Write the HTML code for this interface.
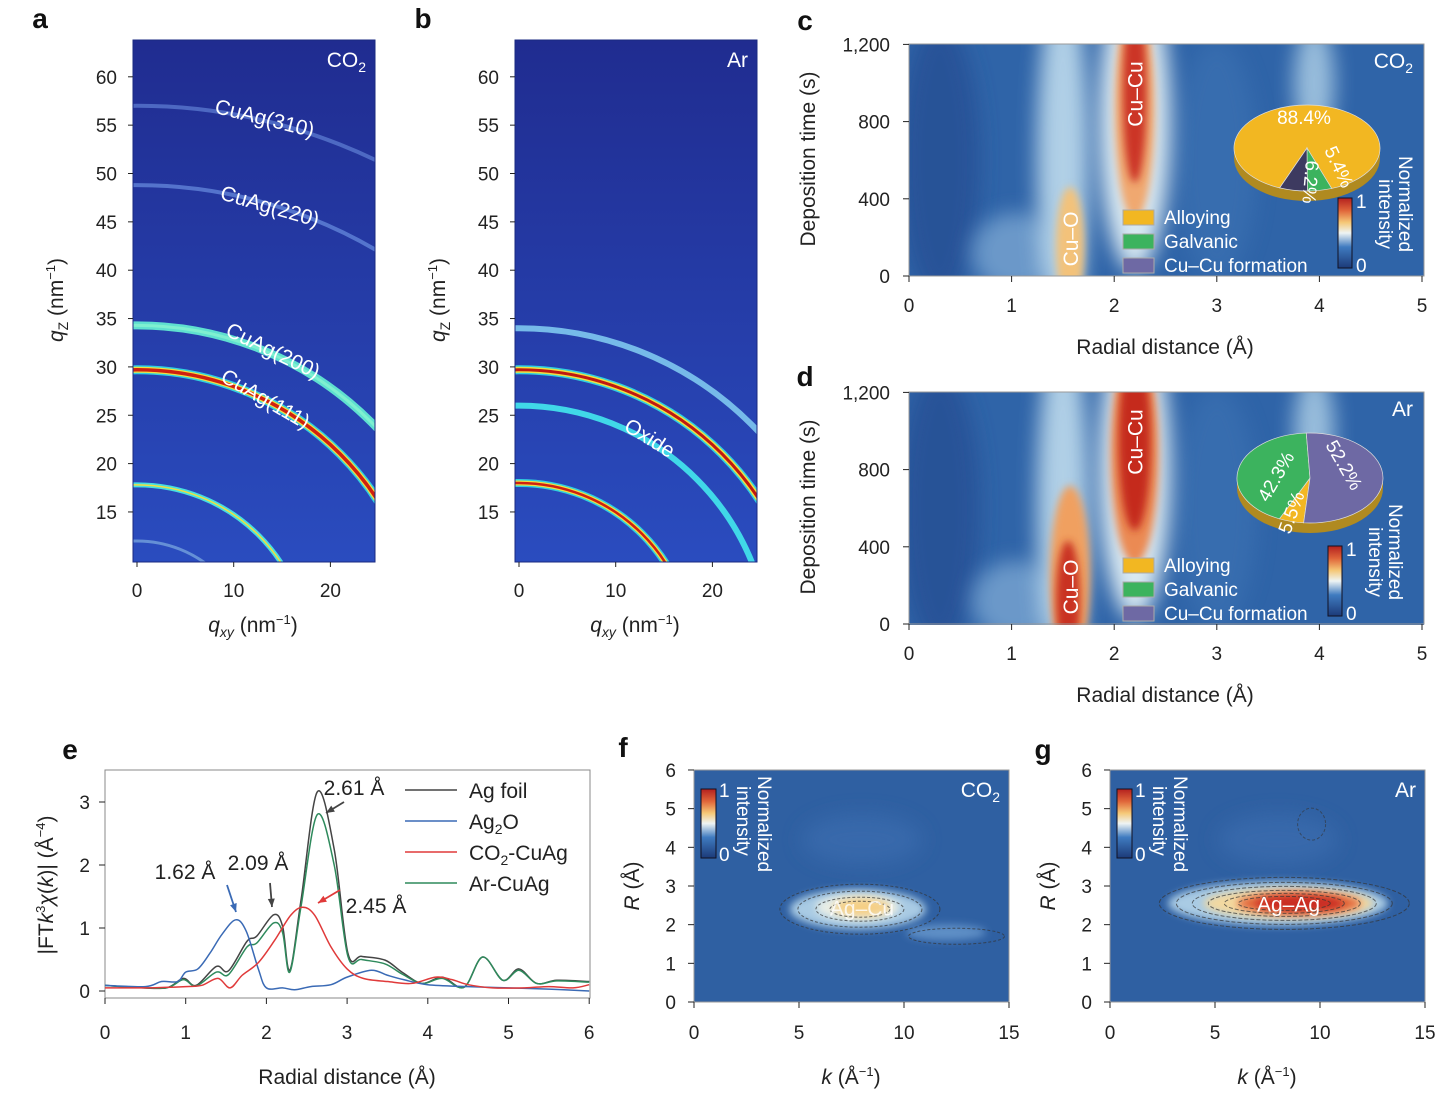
<!DOCTYPE html>
<html><head><meta charset="utf-8"><style>
html,body{margin:0;background:#fff;width:1454px;height:1101px;overflow:hidden;}
svg{display:block;font-family:"Liberation Sans",sans-serif;}
.t{font-size:19px;fill:#222;}
.lab{font-size:21px;fill:#222;}
.pl{font-size:28px;font-weight:bold;fill:#111;}
.w{fill:#fff;}
</style></head><body>
<svg id="fig" width="1454" height="1101" viewBox="0 0 1454 1101">
<defs>
<filter id="b4" x="-50%" y="-50%" width="200%" height="200%"><feGaussianBlur stdDeviation="4"/></filter>
<filter id="b10" x="-50%" y="-50%" width="200%" height="200%"><feGaussianBlur stdDeviation="10"/></filter>
<filter id="b1"><feGaussianBlur stdDeviation="1.2"/></filter>
<linearGradient id="cbar" x1="0" y1="1" x2="0" y2="0">
<stop offset="0" stop-color="#1c3a78"/><stop offset="0.3" stop-color="#3f7bc0"/><stop offset="0.5" stop-color="#eef4f4"/><stop offset="0.65" stop-color="#f5c877"/><stop offset="0.82" stop-color="#e0663a"/><stop offset="1" stop-color="#b4201f"/></linearGradient>
<linearGradient id="giwaxs" x1="0" y1="0" x2="0" y2="1"><stop offset="0" stop-color="#202c90"/><stop offset="1" stop-color="#2a4cbf"/></linearGradient>
<clipPath id="ca"><rect x="133" y="40" width="242" height="522"/></clipPath>
<clipPath id="cb"><rect x="515" y="40" width="242" height="522"/></clipPath>
<clipPath id="cc"><rect x="909" y="44" width="515" height="232"/></clipPath>
<clipPath id="cd"><rect x="909" y="392" width="515" height="233"/></clipPath>
<clipPath id="cf"><rect x="694" y="770" width="315" height="232"/></clipPath>
<clipPath id="cg"><rect x="1110" y="770" width="315" height="232"/></clipPath>
</defs>
<g id="root"></g>
</svg>
<script>
// ---------- panel e data ----------
const eX=[0,0.34,0.76,0.97,1.13,1.38,1.53,1.76,1.88,2.09,2.2,2.29,2.43,2.63,2.84,3.01,3.18,3.47,3.68,3.93,4.18,4.45,4.68,4.93,5.13,5.35,5.6,6.0];
const agFoil=[0.09,0.06,0.05,0.2,0.09,0.39,0.32,0.79,0.87,1.21,1.03,0.33,1.45,3.16,2.25,0.6,0.55,0.49,0.3,0.12,0.22,0.06,0.54,0.17,0.35,0.12,0.17,0.15];
const arCuAg=[0.09,0.06,0.05,0.18,0.08,0.3,0.26,0.7,0.76,1.08,0.93,0.3,1.35,2.8,2.0,0.55,0.5,0.43,0.27,0.12,0.2,0.06,0.54,0.17,0.33,0.12,0.16,0.14];
const blueX=[0,0.5,0.7,0.9,1.0,1.15,1.3,1.45,1.62,1.75,1.9,2.0,2.2,2.35,2.55,2.8,3.0,3.3,3.5,3.7,4.0,4.5,5.0,5.5,6.0];
const ag2O=[0.09,0.07,0.15,0.15,0.3,0.35,0.6,0.9,1.13,0.95,0.35,0.05,0.05,0.02,0.07,0.1,0.22,0.33,0.25,0.18,0.1,0.07,0.05,0.03,0.0];
const redX=[0,0.5,1.0,1.2,1.4,1.55,1.7,1.9,2.1,2.3,2.45,2.6,2.8,3.0,3.2,3.5,3.8,4.1,4.3,4.5,4.8,5.2,5.5,5.8,6.0];
const co2CuAg=[0.05,0.05,0.07,0.09,0.2,0.05,0.25,0.45,0.8,1.2,1.33,1.2,0.7,0.35,0.2,0.15,0.12,0.22,0.18,0.1,0.05,0.05,0.07,0.05,0.1];
const eXTicks=[0,1,2,3,4,5,6];
const eYTicks=[0,1,2,3];
// pies
const pieC=[88.4,5.4,6.2];
const pieD=[5.5,42.3,52.2];
// GIWAXS ring q values
const ringsA=[12,17.8,29.7,34.3,48.8,57];
const ringsB=[18,26,29.7,34];
const qzTicks=[15,20,25,30,35,40,45,50,55,60];
const qxyTicks=[0,10,20];
const rTicks=[0,1,2,3,4,5];
const tTicks=[0,400,800,1200];
const kTicks=[0,5,10,15];
const RTicks=[0,1,2,3,4,5,6];

const NS="http://www.w3.org/2000/svg";
const root=document.getElementById('root');
function mk(tag,attrs,parent){const e=document.createElementNS(NS,tag);for(const k in attrs)e.setAttribute(k,attrs[k]);(parent||root).appendChild(e);return e;}
function txt(x,y,s,cls,extra,parent){const e=mk('text',Object.assign({x:x,y:y,class:cls},extra||{}),parent);e.innerHTML=s;return e;}

// ---------- panels a & b ----------
function giwaxs(px,clip,rings,kind,title){
  const x0=px+4,y0=657,s=9.67;
  const g=mk('g',{'clip-path':'url(#'+clip+')'});
  
  
  mk('rect',{x:px,y:40,width:242,height:522,fill:'url(#giwaxs)'},g);
  rings.forEach((q,i)=>{
    const r=q*s;
    let specs;
    if(kind==='a'){
      specs=[[['#9fd4f0',3,0.5]],[['#48e0e0',5,1],['#f0e040',1.5,1]],[['#30d0e0',9,1],['#f0e040',6,1],['#d02010',3.5,1]],[['#5fe0d0',8,1],['#7ff0d0',3,1]],[['#6a8ee0',4,0.7]],[['#6a8ee0',4,0.6]]][i];
    } else {
      specs=[[['#30d0e0',8,1],['#f0e040',5,1],['#d02010',2.5,1]],[['#40d8e8',6,1]],[['#30d0e0',9,1],['#f0e040',6,1],['#c01810',3,1]],[['#80c8f0',6,0.9]]][i];
    }
    specs.forEach(sp=>{const c=mk('circle',{cx:x0,cy:y0,r:r,fill:'none',stroke:sp[0],'stroke-width':sp[1],opacity:sp[2]},g);
      
      });
  });
  mk('rect',{x:px,y:40,width:242,height:522,fill:'none',stroke:'#1a2a80','stroke-width':1});
  txt(px+233,67,title,'lab w',{'text-anchor':'end','font-size':20});
  qzTicks.forEach(v=>{const y=y0-v*s;mk('line',{x1:px-5,x2:px,y1:y,y2:y,stroke:'#222'});
    const t=txt(px-16,y+7,v,'t',{'text-anchor':'end'});
    
    });
  qxyTicks.forEach(v=>{const x=x0+v*s;mk('line',{x1:x,x2:x,y1:562,y2:567,stroke:'#222'});
    const t=txt(x,597,v,'t',{'text-anchor':'middle'});
    
    });
  txt(px+120,632,'<tspan font-style="italic">q</tspan><tspan font-style="italic" font-size="14" dy="5">xy</tspan><tspan dy="-5"> (nm</tspan><tspan font-size="13" dy="-8">−1</tspan><tspan dy="8">)</tspan>','lab',{'text-anchor':'middle'});
  txt(0,0,'<tspan font-style="italic">q</tspan><tspan font-size="14" dy="5">Z</tspan><tspan dy="-5"> (nm</tspan><tspan font-size="13" dy="-8">−1</tspan><tspan dy="8">)</tspan>','lab',{'text-anchor':'middle',transform:'translate('+(px-70)+',300) rotate(-90)'});
}
giwaxs(133,'ca',ringsA,'a','CO<tspan font-size="14" dy="5">2</tspan>');
giwaxs(515,'cb',ringsB,'b','Ar');
txt(263,125,'CuAg(310)','lab w',{transform:'rotate(14 263 125)','text-anchor':'middle'});
txt(268,213,'CuAg(220)','lab w',{transform:'rotate(16 268 213)','text-anchor':'middle'});
txt(270,357,'CuAg(200)','lab w',{transform:'rotate(26 270 357)','text-anchor':'middle'});
txt(262,405,'CuAg(111)','lab w',{transform:'rotate(30 262 405)','text-anchor':'middle'});
txt(646,444,'Oxide','lab w',{transform:'rotate(32 646 444)','text-anchor':'middle'});
txt(40,28,'a','pl',{'text-anchor':'middle'});
txt(423,28,'b','pl',{'text-anchor':'middle'});

// ---------- panels c & d ----------
function blob(g,cx,cy,rx,ry,color,op,f){const e=mk('ellipse',{cx:cx,cy:cy,rx:rx,ry:ry,fill:color,opacity:op,filter:'url(#'+(f||'b10')+')'},g);
  
  return e;}
function pieSlice(g,cx,cy,rx,ry,a0,a1,color){
  const r=Math.PI/180;
  const p='M'+cx+','+cy+' L'+(cx+rx*Math.cos(a0*r))+','+(cy+ry*Math.sin(a0*r))+' A'+rx+','+ry+' 0 '+((a1-a0)>180?1:0)+' 1 '+(cx+rx*Math.cos(a1*r))+','+(cy+ry*Math.sin(a1*r))+' Z';
  const e=mk('path',{d:p,fill:color,stroke:'#ddd','stroke-width':0.7},g);
  
  }
function heat(top,clip,kind){
  const X=r=>909+r*102.6, Y=t=>top+232-t*0.193;
  const g=mk('g',{'clip-path':'url(#'+clip+')'});
  
  
  mk('rect',{x:909,y:top,width:515,height:233,fill:'#2f64a8'},g);
  blob(g,X(0.3),Y(600),40,140,'#284f94',0.8);
  blob(g,X(1.05),Y(120),45,40,'#7aa6d2',0.8);
  blob(g,X(1.5),Y(600),26,180,'#b8d6ea',0.95);
  blob(g,X(3.95),Y(1000),20,60,'#a5c8e2',0.9);
  blob(g,X(3.0),Y(600),40,120,'#3d73b4',0.6);
  blob(g,X(2.2),Y(800),36,150,'#d9e9f2',1);
  if(kind==='c'){
    blob(g,X(2.2),Y(860),20,110,'#f0a870',1,'b4');
    blob(g,X(2.2),Y(950),12,90,'#cc3626',1,'b4');
    blob(g,X(1.57),Y(150),14,60,'#f3c27a',1,'b4');
  } else {
    blob(g,X(2.2),Y(880),24,110,'#eb8a52',1,'b4');
    blob(g,X(2.2),Y(950),16,90,'#c52a1e',1,'b4');
    blob(g,X(1.57),Y(250),20,90,'#f0a060',1,'b4');
    blob(g,X(1.55),Y(120),12,60,'#c93222',1,'b4');
  }
  mk('rect',{x:909,y:top,width:515,height:232,fill:'none',stroke:'#999'});
  txt(0,0,'Cu–Cu','lab w',{'text-anchor':'middle',transform:'translate('+(X(2.2)+8)+','+(top+50)+') rotate(-90)'});
  txt(0,0,'Cu–O','lab w',{'text-anchor':'middle',transform:'translate('+(X(1.57)+8)+','+(top+195)+') rotate(-90)'});
  txt(1413,top+24,kind==='c'?'CO<tspan font-size="14" dy="5">2</tspan>':'Ar','lab w',{'text-anchor':'end'});
  const leg=[['#f2b722','Alloying'],['#3cb35e','Galvanic'],['#6e69a4','Cu–Cu formation']];
  leg.forEach((l,i)=>{const y=top+166+i*24;
    const r=mk('rect',{x:1123,y:y,width:31,height:15,fill:l[0],stroke:'#aaa'});
    
    
    txt(1164,y+14,l[1],'t w',{'font-size':17});});
  const cbx=kind==='c'?1338:1328;
  mk('rect',{x:cbx,y:top+154,width:14,height:70,fill:'url(#cbar)',stroke:'#112'});
  txt(cbx+18,top+164,'1','t w',{'font-size':12});
  txt(cbx+18,top+228,'0','t w',{'font-size':12});
  txt(0,0,'Normalized','t w',{'font-size':17,'text-anchor':'middle',transform:'translate('+(cbx+61)+','+(top+160)+') rotate(90)'});
  txt(0,0,'intensity','t w',{'font-size':17,'text-anchor':'middle',transform:'translate('+(cbx+41)+','+(top+170)+') rotate(90)'});
  rTicks.forEach(v=>{mk('line',{x1:X(v),x2:X(v),y1:top+232,y2:top+238,stroke:'#222'});
    const t=txt(X(v),top+268,v,'t',{'text-anchor':'middle'});
    
    });
  tTicks.forEach(v=>{mk('line',{x1:903,x2:909,y1:Y(v),y2:Y(v),stroke:'#222'});
    const t=txt(890,Y(v)+7,v===1200?'1,200':v,'t',{'text-anchor':'end'});
    
    });
  txt(1165,top+310,'Radial distance (Å)','lab',{'text-anchor':'middle'});
  txt(0,0,'Deposition time (s)','lab',{'text-anchor':'middle',transform:'translate(815,'+(top+115)+') rotate(-90)'});
}
heat(44,'cc','c');
heat(392,'cd','d');
txt(805,30,'c','pl',{'text-anchor':'middle'});
txt(805,386,'d','pl',{'text-anchor':'middle'});

function pie3d(cx,cy,rx,ry,vals,cols,start,name){
  const g=mk('g',{});
  
  
  mk('ellipse',{cx:cx,cy:cy+10,rx:rx,ry:ry,fill:'#b08a20'},g);
  mk('rect',{x:cx-rx,y:cy,width:2*rx,height:10,fill:'#b08a20'},g);
  let a=start;
  vals.forEach((v,i)=>{const a1=a+v*3.6;pieSlice(g,cx,cy,rx,ry,a,a1,cols[i]);a=a1;});
  return g;
}
pie3d(1307,148,73,43,pieC,['#f2b722','#3cb35e','#3d3a60'],112,'pie-chart-co2');
txt(1304,124,'88.4%','t w',{'text-anchor':'middle'});
txt(0,0,'6.2%','t w',{'font-size':14,transform:'translate(1306,160) rotate(95)'});
txt(0,0,'5.4%','t w',{'font-size':14,transform:'translate(1324,150) rotate(65)'});
pie3d(1310,478,73,45,pieD,['#f2b722','#3cb35e','#6e69a4'],95,'pie-chart-ar');
txt(0,0,'42.3%','t w',{'font-size':17,transform:'translate(1268,503) rotate(-60)'});
txt(0,0,'52.2%','t w',{'font-size':17,transform:'translate(1325,445) rotate(60)'});
txt(0,0,'5.5%','t w',{'font-size':15,transform:'translate(1290,535) rotate(-70)'});

// ---------- panel e ----------
const EX=v=>105+v*80.7, EY=v=>991-v*63;
function smooth(xs,ys){const p=xs.map((x,i)=>[EX(x),EY(ys[i])]);let d='M'+p[0][0]+','+p[0][1];
  for(let i=0;i<p.length-1;i++){const p0=p[i-1]||p[i],p1=p[i],p2=p[i+1],p3=p[i+2]||p2;
    d+=' C'+(p1[0]+(p2[0]-p0[0])/6)+','+(p1[1]+(p2[1]-p0[1])/6)+' '+(p2[0]-(p3[0]-p1[0])/6)+','+(p2[1]-(p3[1]-p1[1])/6)+' '+p2[0]+','+p2[1];}
  return d;}
mk('rect',{x:105,y:770,width:485,height:228,fill:'none',stroke:'#888'});
const l1=mk('path',{d:smooth(eX,agFoil),fill:'none',stroke:'#444','stroke-width':1.5});


const l4=mk('path',{d:smooth(eX,arCuAg),fill:'none',stroke:'#2e8a5c','stroke-width':1.5});


const l2=mk('path',{d:smooth(blueX,ag2O),fill:'none',stroke:'#3a6ab5','stroke-width':1.5});


const l3=mk('path',{d:smooth(redX,co2CuAg),fill:'none',stroke:'#e03a3a','stroke-width':1.5});


eXTicks.forEach(v=>{mk('line',{x1:EX(v),x2:EX(v),y1:998,y2:1004,stroke:'#222'});
  const t=txt(EX(v),1039,v,'t',{'text-anchor':'middle'});
  
  });
eYTicks.forEach(v=>{mk('line',{x1:99,x2:105,y1:EY(v),y2:EY(v),stroke:'#222'});
  const t=txt(90,EY(v)+7,v,'t',{'text-anchor':'end'});
  
  });
txt(347,1084,'Radial distance (Å)','lab',{'text-anchor':'middle'});
txt(0,0,'|FT<tspan font-style="italic">k</tspan><tspan font-size="13" dy="-8">3</tspan><tspan font-style="italic" dy="8">χ</tspan>(<tspan font-style="italic">k</tspan>)| (Å<tspan font-size="13" dy="-8">−4</tspan><tspan dy="8">)</tspan>','lab',{'text-anchor':'middle',transform:'translate(53,885) rotate(-90)'});
const legE=[['#444','Ag foil'],['#3a6ab5','Ag<tspan font-size="14" dy="5">2</tspan><tspan dy="-5">O</tspan>'],['#e03a3a','CO<tspan font-size="14" dy="5">2</tspan><tspan dy="-5">-CuAg</tspan>'],['#2e8a5c','Ar-CuAg']];
legE.forEach((l,i)=>{const y=790+i*31;
  const ln=mk('line',{x1:405,x2:457,y1:y,y2:y,stroke:l[0],'stroke-width':1.5});
  
  
  txt(469,y+8,l[1],'lab');});
txt(354,795,'2.61 Å','lab',{fill:'#555','text-anchor':'middle'});
txt(258,870,'2.09 Å','lab',{fill:'#555','text-anchor':'middle'});
txt(185,879,'1.62 Å','lab',{fill:'#3a6ab5','text-anchor':'middle'});
txt(376,913,'2.45 Å','lab',{fill:'#e03a3a','text-anchor':'middle'});
function arrow(x1,y1,x2,y2,c){const a=Math.atan2(y2-y1,x2-x1);
  mk('line',{x1:x1,y1:y1,x2:x2,y2:y2,stroke:c,'stroke-width':1.8});
  mk('path',{d:'M'+x2+','+y2+' L'+(x2-9*Math.cos(a-0.4))+','+(y2-9*Math.sin(a-0.4))+' L'+(x2-9*Math.cos(a+0.4))+','+(y2-9*Math.sin(a+0.4))+' Z',fill:c});}
arrow(227,885,236,912,'#3a6ab5');
arrow(270,883,272,907,'#444');
arrow(344,802,326,813,'#444');
arrow(340,890,318,903,'#e03a3a');
txt(70,759,'e','pl',{'text-anchor':'middle'});

// ---------- panels f & g ----------
function wt(px,clip,kind){
  const X=k=>px+k*21, Y=R=>1002-R*38.67;
  const g=mk('g',{'clip-path':'url(#'+clip+')'});
  
  
  mk('rect',{x:px,y:770,width:315,height:232,fill:'#2f60a2'},g);
  blob(g,X(8),Y(4.2),60,25,'#3a6cae',0.8);
  if(kind==='f'){
    blob(g,X(7.8),Y(2.4),68,20,'#a9cbe4',1,'b4');
    blob(g,X(12),Y(1.8),40,8,'#5f8fc6',1,'b4');
    blob(g,X(7.8),Y(2.45),42,13,'#e9eee6',1,'b4');
    blob(g,X(8),Y(2.45),28,9,'#f5cf85',1,'b4');
    [[80,25],[62,18],[44,12],[30,8]].forEach(r=>{const e=mk('ellipse',{cx:X(7.9),cy:Y(2.4),rx:r[0],ry:r[1],fill:'none',stroke:'#333','stroke-dasharray':'3 2','stroke-width':1,opacity:0.7},g);
      
      });
    mk('ellipse',{cx:X(12.5),cy:Y(1.7),rx:48,ry:8,fill:'none',stroke:'#333','stroke-dasharray':'3 2',opacity:0.7},g);
    txt(X(8),Y(2.45)+8,'Ag–Cu','lab w',{'text-anchor':'middle',opacity:0.8});
  } else {
    blob(g,X(8),Y(2.55),110,22,'#a9cbe4',1,'b4');
    blob(g,X(8.5),Y(2.55),85,15,'#f3d9a0',1,'b4');
    blob(g,X(9),Y(2.55),62,11,'#e36a3e',1,'b4');
    blob(g,X(9),Y(2.55),45,8,'#c92a20',1,'b4');
    [[125,26],[108,21],[92,17],[76,13],[60,10],[46,7]].forEach(r=>{const e=mk('ellipse',{cx:X(8.3),cy:Y(2.55),rx:r[0],ry:r[1],fill:'none',stroke:'#333','stroke-dasharray':'4 2','stroke-width':1,opacity:0.7},g);
      
      });
    mk('ellipse',{cx:X(9.6),cy:Y(4.6),rx:14,ry:16,fill:'none',stroke:'#333','stroke-dasharray':'3 2',opacity:0.6},g);
    txt(X(8.5),Y(2.55)+8,'Ag–Ag','lab w',{'text-anchor':'middle'});
  }
  mk('rect',{x:px,y:770,width:315,height:232,fill:'none',stroke:'#999'});
  txt(px+306,797,kind==='f'?'CO<tspan font-size="14" dy="5">2</tspan>':'Ar','lab w',{'text-anchor':'end'});
  mk('rect',{x:px+7,y:789,width:15,height:69,fill:'url(#cbar)',stroke:'#112'});
  txt(px+25,797,'1','t w',{'font-size':12});
  txt(px+25,861,'0','t w',{'font-size':12});
  txt(0,0,'Normalized','t w',{'font-size':17,transform:'translate('+(px+64)+',776) rotate(90)'});
  txt(0,0,'intensity','t w',{'font-size':17,transform:'translate('+(px+43)+',786) rotate(90)'});
  kTicks.forEach(v=>{mk('line',{x1:X(v),x2:X(v),y1:1002,y2:1008,stroke:'#222'});
    const t=txt(X(v),1039,v,'t',{'text-anchor':'middle'});
    
    });
  RTicks.forEach(v=>{mk('line',{x1:px-6,x2:px,y1:Y(v),y2:Y(v),stroke:'#222'});
    const t=txt(px-18,Y(v)+7,v,'t',{'text-anchor':'end'});
    
    });
  txt(px+157,1084,'<tspan font-style="italic">k</tspan> (Å<tspan font-size="13" dy="-8">−1</tspan><tspan dy="8">)</tspan>','lab',{'text-anchor':'middle'});
  txt(0,0,'<tspan font-style="italic">R</tspan> (Å)','lab',{'text-anchor':'middle',transform:'translate('+(px-55)+',886) rotate(-90)'});
}
wt(694,'cf','f');
wt(1110,'cg','g');
txt(623,757,'f','pl',{'text-anchor':'middle'});
txt(1043,759,'g','pl',{'text-anchor':'middle'});
</script>
</body></html>
